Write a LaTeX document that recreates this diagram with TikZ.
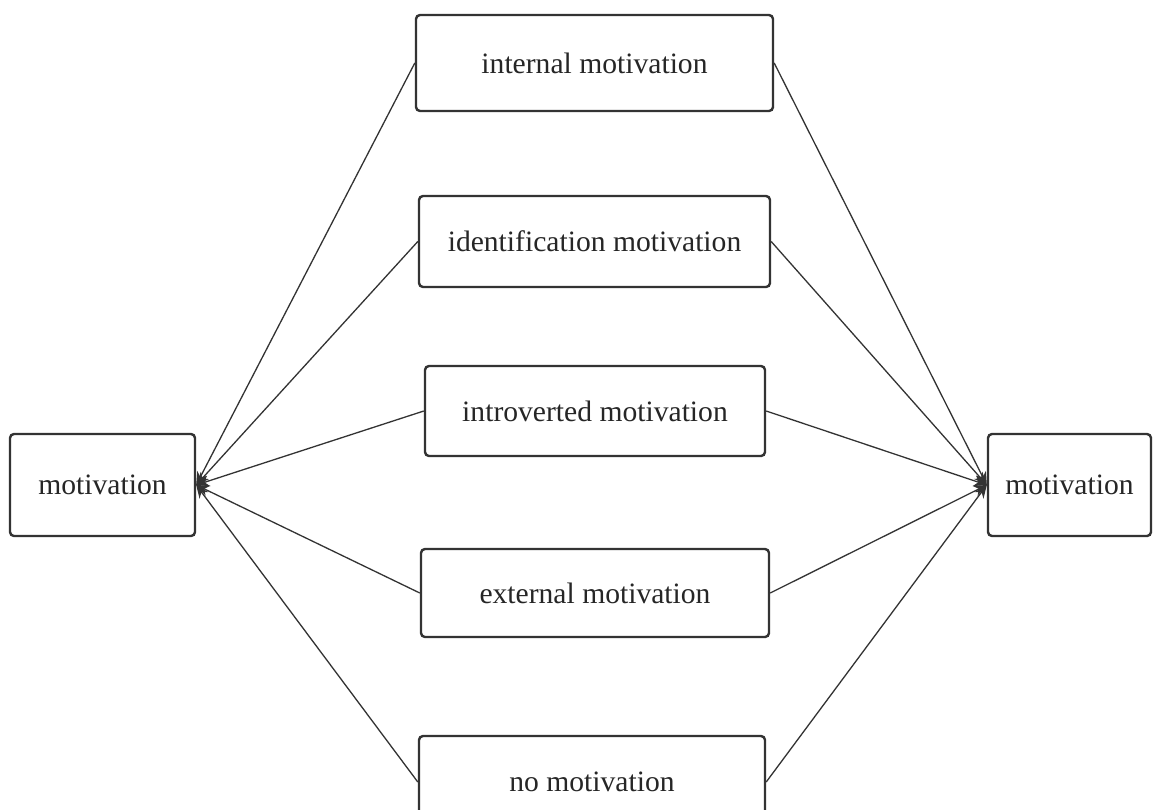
\documentclass[tikz,border=0pt]{standalone}
\usepackage{fontspec}
\setmainfont{Liberation Serif}
\usetikzlibrary{arrows.meta}
\begin{document}
\begin{tikzpicture}[x=1pt,y=-1pt,
  box/.style={draw=black!80, line width=2.4pt, rounded corners=4pt, fill=white,
    inner sep=0pt, text=black!85, font=\fontsize{29.6}{34}\selectfont},
  link/.style={draw=black!80, line width=1.3pt, -{Stealth[length=13pt,width=11pt]}}]
  \clip (0,0) rectangle (1161,809);
  \fill[white] (0,0) rectangle (1161,809);
  % outer motivation boxes
  \node[box, minimum width=185pt, minimum height=102pt] (lm) at (102.5,485) {motivation};
  \node[box, minimum width=163pt, minimum height=102pt] (rm) at (1069.5,485) {motivation};
  % middle column
  \node[box, minimum width=357pt, minimum height=96pt] (im) at (594.5,63) {internal motivation};
  \node[box, minimum width=351pt, minimum height=91pt] (dm) at (594.5,241.5) {identification motivation};
  \node[box, minimum width=340pt, minimum height=90pt] (vm) at (595,411) {introverted motivation};
  \node[box, minimum width=348pt, minimum height=88pt] (em) at (595,593) {external motivation};
  \node[box, minimum width=346pt, minimum height=92pt] (nm) at (592,782) {no motivation};
  % connectors
  \foreach \n in {im,dm,vm,em,nm}{
    \draw[link] (\n.west) -- (lm.east);
    \draw[link] (\n.east) -- (rm.west);
  }
\end{tikzpicture}
\end{document}
